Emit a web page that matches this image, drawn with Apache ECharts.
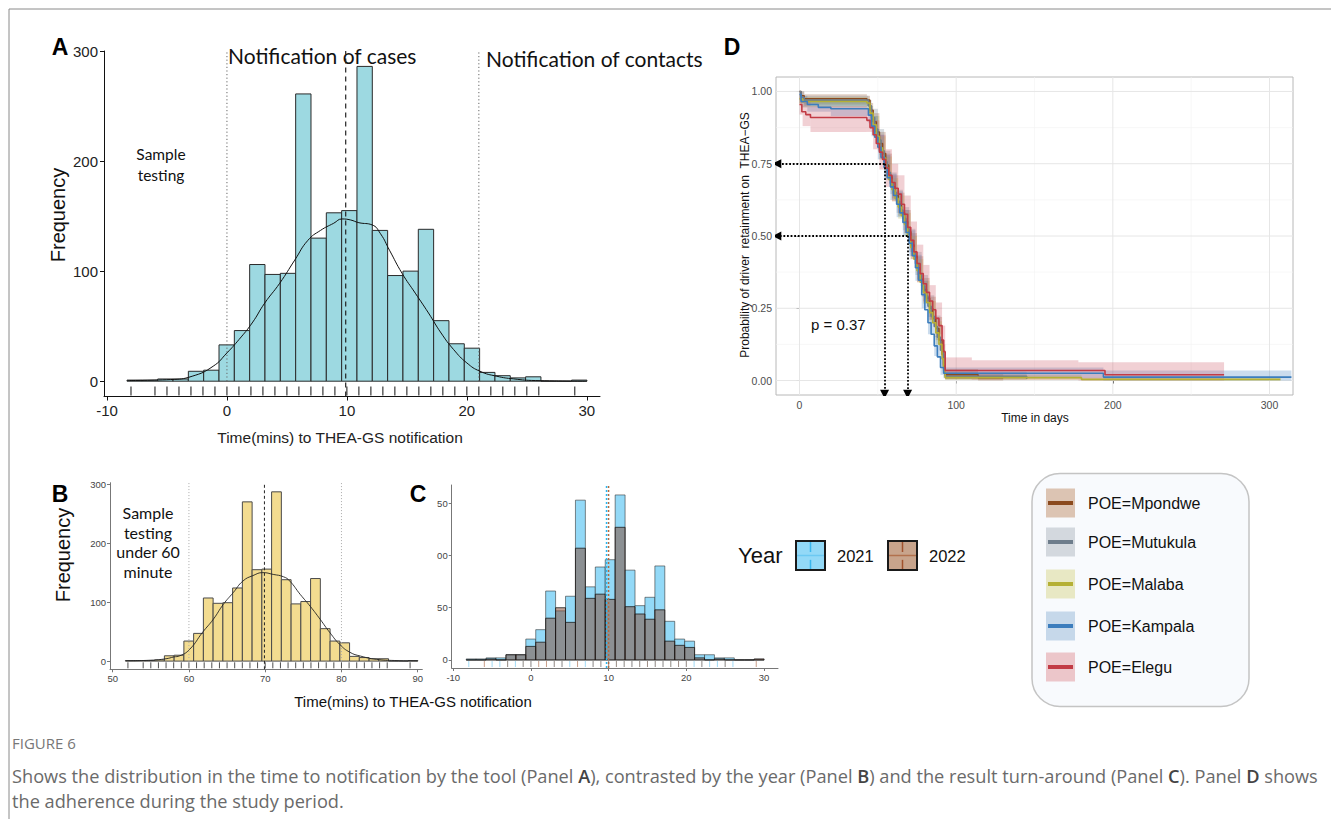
<!DOCTYPE html>
<html><head><meta charset="utf-8">
<script src="https://cdn.jsdelivr.net/npm/echarts@6/dist/echarts.min.js"></script>
<style>html,body{margin:0;padding:0;background:#fff}#main{width:1331px;height:819px}</style>
</head><body><div id="main"></div>
<script>
// ================= DATA =================
// Histogram bins (30 bins)
const binStartA = -8.33;
const binStartB = 51.67;
const binWidth = 1.278;
const countsA = [1,1,2,2,9,10,33,46,106,97,98,261,130,153,155,286,137,96,100,138,55,34,30,8,5,3,4,0,0,1];
const countsB = [1,1,1,2,9,10,34,47,107,98,99,124,270,155,156,287,138,97,101,140,55,34,31,8,6,4,4,0,0,1];
const counts2021 = [1,1,2,2,5,5,20,29,66,47,61,153,70,89,96,158,86,52,60,90,37,20,18,5,5,2,2,0,0,0];
const counts2022 = [0,0,1,0,5,5,13,17,40,50,36,107,59,63,58,127,51,44,39,48,18,14,12,2,0,1,0,0,0,1];
// Density curves (count scale)
const densityA = [[-8.3,0.6],[-4.7,1.5],[-2.9,4.5],[-1.15,13.6],[0,25.7],[1.0,37.8],[2.1,52.9],[3.15,71],[4.4,89],[5.65,110],[6.75,128],[7.8,137],[8.9,143.5],[9.6,147.4],[10.3,146.5],[11.0,144],[12.1,142],[12.8,134],[13.55,119],[14.6,98],[15.7,80],[16.8,62],[17.85,43.8],[18.9,28.7],[20,16.6],[21.1,9],[22.5,4.5],[23.9,2.1],[25.7,0.6],[30,0]];
const densityB = [[51.7,0.5],[55,1.5],[57,4],[58,7],[58.8,9],[60.1,20],[61.8,49],[63.2,71],[64.5,96],[65.8,116],[67.1,136],[68.4,145],[69.7,150],[71.05,147],[72.4,143],[73.2,136],[74.6,113],[75.9,93],[77.2,71],[78.5,48],[79.8,28],[81.1,15],[82.5,8.5],[84.6,3],[87,1],[90,0.3]];
// Rug values
const rugA = [-8,-6,-5,-4,-3,-2,-1,0,1,2,3,4,5,6,7,8,9,10,11,12,13,14,15,16,17,18,19,20,21,22,23,24,25,26,29];
const rugB = [52,54,55,56,57,58,59,60,61,62,63,64,65,66,67,68,69,70,71,72,73,74,75,76,77,78,79,80,81,82,83,84,85,86,89];
const rug2021 = [-8,-5,-4,-3,-2,-1,0,3,4,5,7,8,9,10,11,12,13,14,15,16,17,18,19,20,21,22,23,24,25,26];
const rug2022 = [-6,-3,-1,0,1,2,3,4,6,8,9,10,11,12,13,14,15,16,17,18,19,20,22,25,29];
// Reference lines
const dottedA = [0, 21];
const dashedA = [9.9];
const dottedB = [60, 80];
const dashedB = [69.9];
const median2021 = 9.73;
const median2022 = 9.99;
// Kaplan–Meier curves [days, survival]
const poeNames = ['POE=Mpondwe','POE=Mutukula','POE=Malaba','POE=Kampala','POE=Elegu'];
const kmMpondwe = [[0,1.0],[1,0.985],[3,0.975],[43,0.97],[45,0.935],[47,0.895],[49,0.86],[51,0.82],[53,0.785],[55,0.745],[57,0.705],[59,0.67],[61,0.64],[63,0.61],[65,0.58],[67,0.55],[69,0.515],[71,0.47],[73,0.43],[75,0.39],[77,0.35],[79,0.315],[81,0.285],[83,0.25],[85,0.215],[87,0.18],[89,0.14],[91,0.09],[92,0.05],[93,0.02],[114,0.01],[130,0.01]];
const kmMutukula = [[0,1.0],[1,0.98],[3,0.97],[44,0.95],[46,0.91],[48,0.87],[50,0.832],[52,0.795],[54,0.757],[56,0.72],[58,0.682],[60,0.65],[62,0.62],[64,0.59],[66,0.56],[68,0.525],[70,0.485],[72,0.445],[74,0.405],[76,0.365],[78,0.327],[80,0.292],[82,0.257],[84,0.222],[86,0.187],[88,0.15],[90,0.105],[92,0.04],[93,0.015],[145,0.005]];
const kmMalaba = [[0,0.975],[2,0.965],[43,0.96],[45,0.925],[47,0.885],[49,0.845],[51,0.805],[53,0.77],[55,0.735],[57,0.695],[59,0.66],[61,0.63],[63,0.60],[65,0.57],[67,0.54],[69,0.50],[71,0.46],[73,0.42],[75,0.38],[77,0.34],[79,0.305],[81,0.27],[83,0.235],[85,0.2],[87,0.165],[89,0.125],[91,0.075],[92,0.035],[93,0.01],[180,0.004],[307,0.002]];
const kmKampala = [[0,0.99],[1,0.965],[5,0.955],[12,0.945],[20,0.94],[44,0.918],[46,0.88],[48,0.842],[50,0.807],[52,0.772],[54,0.737],[56,0.702],[58,0.67],[60,0.64],[62,0.61],[64,0.58],[66,0.547],[68,0.512],[70,0.475],[72,0.432],[74,0.39],[76,0.347],[78,0.297],[80,0.245],[82,0.2],[84,0.16],[86,0.12],[88,0.082],[90,0.045],[92,0.025],[194,0.012],[314,0.012]];
const kmElegu = [[0,0.955],[1.5,0.93],[4,0.92],[7,0.91],[43,0.90],[45,0.875],[47,0.85],[49,0.82],[51,0.79],[53,0.765],[55,0.735],[57,0.71],[59,0.685],[61,0.665],[63,0.645],[65,0.61],[67,0.575],[69,0.53],[71,0.485],[73,0.445],[75,0.405],[77,0.37],[79,0.335],[81,0.305],[83,0.275],[85,0.245],[87,0.215],[89,0.19],[91,0.14],[92,0.1],[93,0.035],[195,0.02],[271,0.02]];
// Confidence bands [days, lower, upper]
const bandMpondwe = [[0,0.96,1.0],[3,0.955,0.99],[43,0.95,0.985],[45,0.90,0.96],[47,0.86,0.925],[51,0.78,0.86],[55,0.705,0.785],[59,0.63,0.71],[63,0.57,0.65],[67,0.51,0.59],[71,0.43,0.51],[75,0.35,0.43],[79,0.275,0.355],[83,0.21,0.29],[87,0.14,0.22],[91,0.055,0.125],[93,0.005,0.04],[114,0.0,0.025],[130,0,0]];
const bandMutukula = [[0,0.96,1.0],[3,0.95,0.985],[44,0.925,0.97],[46,0.875,0.94],[50,0.795,0.87],[54,0.72,0.795],[58,0.645,0.72],[62,0.58,0.66],[66,0.52,0.60],[70,0.445,0.525],[74,0.365,0.445],[78,0.29,0.365],[82,0.22,0.295],[86,0.15,0.225],[90,0.07,0.14],[92,0.01,0.07],[93,0.003,0.03],[145,0,0]];
const bandMalaba = [[0,0.955,0.99],[2,0.945,0.98],[43,0.94,0.975],[45,0.90,0.95],[47,0.85,0.915],[51,0.765,0.845],[55,0.695,0.775],[59,0.62,0.70],[63,0.56,0.64],[67,0.50,0.58],[71,0.42,0.50],[75,0.34,0.42],[79,0.265,0.345],[83,0.195,0.275],[87,0.125,0.205],[91,0.045,0.105],[93,0.002,0.02],[180,0.0,0.01],[307,0,0]];
const bandKampala = [[0,0.97,1.0],[1,0.945,0.985],[5,0.93,0.975],[20,0.915,0.965],[44,0.89,0.945],[46,0.845,0.915],[50,0.765,0.85],[54,0.695,0.78],[58,0.625,0.715],[62,0.565,0.655],[66,0.50,0.59],[70,0.43,0.52],[74,0.345,0.435],[78,0.25,0.345],[82,0.16,0.24],[86,0.085,0.155],[90,0.02,0.07],[92,0.008,0.045],[194,0.0,0.035],[314,0,0]];
const bandElegu = [[0,0.92,0.99],[2,0.88,0.97],[7,0.86,0.95],[43,0.86,0.94],[47,0.80,0.90],[51,0.73,0.85],[55,0.67,0.80],[59,0.62,0.75],[63,0.58,0.71],[67,0.51,0.64],[71,0.42,0.55],[75,0.34,0.47],[79,0.27,0.40],[83,0.21,0.33],[87,0.16,0.27],[91,0.09,0.19],[93,0.005,0.08],[110,0.003,0.07],[178,0.0,0.063],[271,0,0]];
// Median markers on Panel D
const medianTimes = [54.3, 69];
const medianProbs = [0.75, 0.5];
// Tick labels
const ticksA_x = [-10,0,10,20,30], ticksA_y = [0,100,200,300];
const ticksB_x = [50,60,70,80,90], ticksB_y = [0,100,200,300];
const ticksC_x = [-10,0,10,20,30], ticksC_y = [0,50,100,150];
const ticksD_x = [0,100,200,300], ticksD_y = [0,0.25,0.5,0.75,1];
const gridD_major_x = [0,100,200,300], gridD_minor_x = [50,150,250];
const gridD_major_y = [0,0.25,0.5,0.75,1], gridD_minor_y = [0.125,0.375,0.625,0.875];

// ================= STYLE / LAYOUT =================
const NARROW = "'Liberation Sans Narrow','Arial Narrow','Liberation Sans',Arial,sans-serif";
const ARIAL = "'Liberation Sans',Arial,sans-serif";
const CALIBRI = "Lato,'Open Sans',sans-serif";
const range = {
  A: {x:[-10.25,31.1], y:[-13.9,300]},
  B: {x:[49.65,90.6], y:[-13.9,302.5]},
  C: {x:[-10.2,31.8], y:[-7.7,167.5]},
  D: {x:[-15,315], y:[-0.05,1.05]}
};
const kmColors = ['#8b4a1e','#6e7d8c','#b5b035','#3c7dbd','#c23b45'];
const bandColors = ['rgba(150,85,45,0.28)','rgba(115,130,145,0.28)','rgba(185,180,60,0.28)','rgba(70,130,190,0.28)','rgba(205,85,100,0.28)'];
const keyFills = ['#dcc4b3','#d3d8de','#e8e8c4','#c6d8ea','#ecc6ca'];

function bins(start, counts){ return counts.map((c,k)=>[start+k*binWidth, start+(k+1)*binWidth, c]); }
function histRender(fill, stroke, lw){
  return function(params, api){
    const a = api.coord([api.value(0), api.value(2)]);
    const b = api.coord([api.value(1), 0]);
    return {type:'rect', shape:{x:a[0], y:a[1], width:b[0]-a[0], height:b[1]-a[1]}, style:{fill:fill, stroke:stroke, lineWidth:lw}};
  };
}
function rugRender(yMin, len, color, lw){
  return function(params, api){
    const p = api.coord([api.value(0), yMin]);
    return {type:'line', shape:{x1:p[0], y1:p[1]-1, x2:p[0], y2:p[1]-1-len}, style:{stroke:color, lineWidth:lw}};
  };
}
function bandRender(color){
  return function(params, api){
    const a = api.coord([api.value(0), api.value(3)]);
    const b = api.coord([api.value(1), api.value(2)]);
    return {type:'rect', shape:{x:a[0], y:a[1], width:b[0]-a[0], height:Math.max(0.6,b[1]-a[1])}, style:{fill:color}};
  };
}
function bandPairs(band){ const out=[]; for(let i=0;i<band.length-1;i++) out.push([band[i][0], band[i+1][0], band[i][1], band[i][2]]); return out; }
function vline(gi, x, y0, y1, type, color, width){
  return {type:'line', xAxisIndex:gi, yAxisIndex:gi, data:[[x,y0],[x,y1]], showSymbol:false, symbol:'none', silent:true,
    lineStyle:{type:type, color:color, width:width}, z:5, animation:false};
}
function axisCfg(gi, r, ticks, opts){
  return {type:'value', gridIndex:gi, min:r[0], max:r[1], splitLine:{show:false},
    axisLine:{show:true, onZero:false, lineStyle:{color:opts.lineColor, width:opts.lineWidth||1}},
    axisTick:{show:true, customValues:ticks, length:opts.tickLen||4, lineStyle:{color:opts.lineColor}},
    axisLabel:{customValues:ticks, fontSize:opts.fontSize, fontFamily:opts.font, color:opts.labelColor, margin:opts.margin||6, formatter:opts.formatter}};
}

const chart = echarts.init(document.getElementById('main'), null, {renderer:'svg'});

const series = [];
// ---- Panel A ----
series.push({type:'custom', xAxisIndex:0, yAxisIndex:0, renderItem:histRender('#9dd9e1','#2a2a2a',1), data:bins(binStartA,countsA), encode:{x:[0,1],y:2}, z:2, animation:false});
series.push({type:'line', xAxisIndex:0, yAxisIndex:0, data:densityA, smooth:true, showSymbol:false, symbol:'none', lineStyle:{color:'#111',width:1}, z:6, animation:false});
series.push({type:'custom', xAxisIndex:0, yAxisIndex:0, renderItem:rugRender(range.A.y[0],9,'#111',1), data:rugA.map(v=>[v]), encode:{x:0}, z:3, animation:false});
dottedA.forEach(v=>series.push(vline(0, v, 0, 300, [1.2,2.4], '#666', 1)));
dashedA.forEach(v=>series.push(vline(0, v, range.A.y[0], 300, [5,4], '#222', 1.2)));
// ---- Panel B ----
series.push({type:'custom', xAxisIndex:1, yAxisIndex:1, renderItem:histRender('#f3dc90','#4a4a4a',1), data:bins(binStartB,countsB), encode:{x:[0,1],y:2}, z:2, animation:false});
series.push({type:'line', xAxisIndex:1, yAxisIndex:1, data:densityB, smooth:true, showSymbol:false, symbol:'none', lineStyle:{color:'#222',width:0.9}, z:6, animation:false});
series.push({type:'custom', xAxisIndex:1, yAxisIndex:1, renderItem:rugRender(range.B.y[0],6,'#222',0.8), data:rugB.map(v=>[v]), encode:{x:0}, z:3, animation:false});
dottedB.forEach(v=>series.push(vline(1, v, 0, 302, [1,2], '#aaa', 1)));
dashedB.forEach(v=>series.push(vline(1, v, range.B.y[0], 302, [3,2.5], '#222', 1)));
// ---- Panel C ----
series.push({type:'custom', xAxisIndex:2, yAxisIndex:2, renderItem:histRender('#93d9f7','rgba(40,40,40,0.55)',1), data:bins(binStartA,counts2021), encode:{x:[0,1],y:2}, z:2, animation:false});
series.push({type:'custom', xAxisIndex:2, yAxisIndex:2, renderItem:histRender('rgba(133,72,48,0.5)','rgba(20,20,20,0.75)',1), data:bins(binStartA,counts2022), encode:{x:[0,1],y:2}, z:3, animation:false});
series.push({type:'custom', xAxisIndex:2, yAxisIndex:2, renderItem:rugRender(range.C.y[0],6,'rgba(60,180,235,0.6)',0.8), data:rug2021.map(v=>[v]), encode:{x:0}, z:4, animation:false});
series.push({type:'custom', xAxisIndex:2, yAxisIndex:2, renderItem:rugRender(range.C.y[0],6,'rgba(160,82,45,0.7)',0.8), data:rug2022.map(v=>[v]), encode:{x:0}, z:4, animation:false});
series.push(vline(2, median2021, range.C.y[0], 167, [2,2], '#29b6f0', 1.5));
series.push(vline(2, median2022, range.C.y[0], 167, [2,2], '#b06a40', 1.5));
// ---- Panel D ----
const gridLinesD = [].concat(
  gridD_minor_x.map(v=>[v,0,0]), gridD_minor_y.map(v=>[v,1,0]),
  gridD_major_x.map(v=>[v,0,1]), gridD_major_y.map(v=>[v,1,1]));
series.push({type:'custom', xAxisIndex:3, yAxisIndex:3, silent:true, z:1, animation:false,
  data: gridLinesD,
  renderItem:function(params, api){
    const cs = params.coordSys; const v = api.value(0), isY = api.value(1)===1, major = api.value(2)===1;
    const col = major ? '#e6e6e6' : '#f3f3f3', lw = major ? 1 : 0.6;
    if(!isY){ const p = api.coord([v, 0.5]); return {type:'line', shape:{x1:p[0], y1:cs.y, x2:p[0], y2:cs.y+cs.height}, style:{stroke:col, lineWidth:lw}}; }
    const p = api.coord([100, v]); return {type:'line', shape:{x1:cs.x, y1:p[1], x2:cs.x+cs.width, y2:p[1]}, style:{stroke:col, lineWidth:lw}};
  }, encode:{x:0}});
const kmAll = [kmMpondwe, kmMutukula, kmMalaba, kmKampala, kmElegu];
const bandAll = [bandMpondwe, bandMutukula, bandMalaba, bandKampala, bandElegu];
bandAll.forEach((b,i)=>series.push({type:'custom', xAxisIndex:3, yAxisIndex:3, renderItem:bandRender(bandColors[i]), data:bandPairs(b), encode:{x:[0,1], y:[2,3]}, z:2, silent:true, animation:false, clip:true}));
kmAll.forEach((d,i)=>series.push({type:'line', name:poeNames[i], xAxisIndex:3, yAxisIndex:3, data:d, step:'end', showSymbol:false, symbol:'none', lineStyle:{color:kmColors[i], width:1.6}, z:4, animation:false}));
series.push({type:'lines', coordinateSystem:'cartesian2d', xAxisIndex:3, yAxisIndex:3, z:7, silent:true, animation:false,
  symbol:['none','triangle'], symbolSize:[0,9],
  lineStyle:{color:'#000', width:1.8, type:[1.8,1.8], opacity:1},
  data: [].concat(
    medianTimes.map((t,i)=>({coords:[[t, medianProbs[i]], [range.D.x[0]+0.5, medianProbs[i]]]})),
    medianTimes.map((t,i)=>({coords:[[t, medianProbs[i]], [t, range.D.y[0]+0.003]]})))
});

// ================= GRAPHICS (text, legends, frame) =================
const g = [];
function txt(text, x, y, font, opts){ return {type:'text', x:x, y:y, silent:true, style:Object.assign({text:text, font:font, fill:'#111', textAlign:'left', textVerticalAlign:'middle'}, opts||{})}; }
// frame
g.push({type:'line', shape:{x1:9, y1:9, x2:1331, y2:9}, style:{stroke:'#8a8a8a', lineWidth:1}, silent:true});
g.push({type:'line', shape:{x1:9, y1:9, x2:9, y2:819}, style:{stroke:'#8a8a8a', lineWidth:1}, silent:true});
// panel letters
g.push(txt('A', 60, 47, "bold 23px "+ARIAL, {textAlign:'center', fill:'#000'}));
g.push(txt('B', 60, 494, "bold 23px "+ARIAL, {textAlign:'center', fill:'#000'}));
g.push(txt('C', 418, 494, "bold 23px "+ARIAL, {textAlign:'center', fill:'#000'}));
g.push(txt('D', 732, 47, "bold 23px "+ARIAL, {textAlign:'center', fill:'#000'}));
// Panel A text
g.push(txt('Notification of cases', 228, 55, "21px "+CALIBRI));
g.push(txt('Notification of contacts', 486, 58, "21px "+CALIBRI));
g.push(txt('Sample\ntesting', 161, 164, "15.5px "+CALIBRI, {textAlign:'center', lineHeight:21}));
g.push({type:'text', x:58, y:215, rotation:Math.PI/2, silent:true, style:{text:'Frequency', font:"20px "+ARIAL, fill:'#111', textAlign:'center', textVerticalAlign:'middle'}});
g.push(txt('Time(mins) to THEA-GS notification', 340, 437, "15.5px "+NARROW, {textAlign:'center', fill:'#222'}));
// Panel B text
g.push(txt('Sample\ntesting\nunder 60\nminute', 148, 542, "16px "+CALIBRI, {textAlign:'center', lineHeight:19.5}));
g.push({type:'text', x:63, y:555, rotation:Math.PI/2, silent:true, style:{text:'Frequency', font:"20px "+ARIAL, fill:'#111', textAlign:'center', textVerticalAlign:'middle'}});
g.push(txt('Time(mins) to THEA-GS notification', 413, 701, "15px "+ARIAL, {textAlign:'center', fill:'#111'}));
// Year legend
g.push(txt('Year', 738, 555, "22px "+ARIAL));
[['2021','#93d9f7','#3ab7ee','#6cc9f2', 796],['2022','#c8a48c','#a0522d','#b2714d', 888]].forEach(k=>{
  const x=k[4], y=541, s=29;
  g.push({type:'rect', shape:{x:x, y:y, width:s, height:s}, style:{fill:k[1], stroke:'#1a1a1a', lineWidth:2}, silent:true});
  g.push({type:'line', shape:{x1:x+1, y1:y+s/2, x2:x+s-1, y2:y+s/2}, style:{stroke:k[3], lineWidth:1.5}, silent:true});
  g.push({type:'line', shape:{x1:x+s/2, y1:y+1, x2:x+s/2, y2:y+s*0.38}, style:{stroke:k[2], lineWidth:1.5}, silent:true});
  g.push({type:'line', shape:{x1:x+s/2, y1:y+s*0.65, x2:x+s/2, y2:y+s-1}, style:{stroke:k[2], lineWidth:1.5}, silent:true});
  g.push(txt(k[0], x+s+12, 556, "16.5px "+ARIAL));
});
// Panel D text
g.push(txt('p = 0.37', 811, 324, "15px "+ARIAL, {fill:'#111'}));
g.push(txt('Time in days', 1035, 418, "12px "+ARIAL, {textAlign:'center', fill:'#111'}));
g.push({type:'text', x:745, y:235, rotation:Math.PI/2, silent:true, style:{text:'Probability of driver  retainment on  THEA\u2212GS', font:"12px "+ARIAL, fill:'#111', textAlign:'center', textVerticalAlign:'middle'}});
// POE legend
g.push({type:'rect', shape:{x:1032, y:473.5, width:217, height:233, r:28}, style:{fill:'#f8fafd', stroke:'#c4c4c4', lineWidth:1.5}, silent:true});
const legRows = [503, 542, 584, 626, 667];
poeNames.forEach((n,i)=>{
  const cy = legRows[i];
  g.push({type:'rect', shape:{x:1046, y:cy-14.5, width:29, height:29}, style:{fill:keyFills[i]}, silent:true});
  g.push({type:'line', shape:{x1:1048, y1:cy, x2:1073, y2:cy}, style:{stroke:kmColors[i], lineWidth:4}, silent:true});
  g.push(txt(n, 1088, cy, "16px "+ARIAL, {fill:'#111'}));
});
// caption
g.push(txt('FIGURE 6', 12, 743, "15px 'Open Sans',sans-serif", {fill:'#777'}));
g.push(txt('Shows the distribution in the time to notification by the tool (Panel {b|A}), contrasted by the year (Panel {b|B}) and the result turn-around (Panel {b|C}). Panel {b|D} shows', 12, 776,
  "18.2px 'Open Sans',sans-serif", {fill:'#6a6a6a', rich:{b:{font:"600 18.2px 'Open Sans',sans-serif", fill:'#444'}}}));
g.push(txt('the adherence during the study period.', 12, 801, "18.2px 'Open Sans',sans-serif", {fill:'#6a6a6a'}));

const axA = {lineColor:'#111', fontSize:15, font:NARROW, labelColor:'#222', tickLen:4, margin:6};
const axB = {lineColor:'#777', fontSize:9.5, font:ARIAL, labelColor:'#444', tickLen:3, margin:4};
const axD = {lineColor:'#444', fontSize:10.5, font:NARROW, labelColor:'#4d4d4d', tickLen:3, margin:4};

const xD = axisCfg(3, range.D.x, ticksD_x, axD); xD.axisLine = {show:false};
const yD = axisCfg(3, range.D.y, ticksD_y, Object.assign({}, axD, {formatter:function(v){ return v.toFixed(2); }})); yD.axisLine = {show:false};

const option = {
  animation:false,
  backgroundColor:'#fff',
  grid:[
    {left:104, top:51, width:496, height:345.5},
    {left:110, top:482.7, width:312.3, height:186.6},
    {left:451.7, top:485, width:326.3, height:183},
    {left:776, top:77, width:517, height:318, show:true, borderColor:'#b8b8b8', borderWidth:1, backgroundColor:'#fff'}
  ],
  xAxis:[
    axisCfg(0, range.A.x, ticksA_x, axA),
    axisCfg(1, range.B.x, ticksB_x, axB),
    axisCfg(2, range.C.x, ticksC_x, axB),
    xD
  ],
  yAxis:[
    axisCfg(0, range.A.y, ticksA_y, axA),
    axisCfg(1, range.B.y, ticksB_y, axB),
    axisCfg(2, range.C.y, ticksC_y, Object.assign({}, axB, {formatter:function(v){ return String(v).slice(-2); }})),
    yD
  ],
  series: series,
  graphic: g
};
chart.setOption(option);
</script></body></html>
